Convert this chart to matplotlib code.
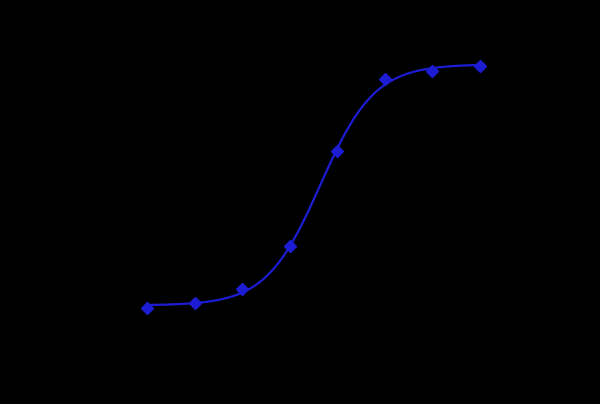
import numpy as np
import matplotlib
matplotlib.use('Agg')
import matplotlib.pyplot as plt

# Standard curve data (2-fold dilution series)
conc = [15.6, 31.25, 62.5, 125, 250, 500, 1000, 2000]
od = [0.23, 0.28, 0.42, 0.87, 1.85, 2.60, 2.68, 2.73]


def four_pl(x, a, b, c, d):
    return d + (a - d) / (1 + (x / c) ** b)


def fit_four_pl(x, y):
    # simple damped Gauss-Newton for the 4PL model
    p = np.array([min(y), 2.0, 200.0, max(y)])
    lam = 1e-2
    for _ in range(500):
        r = y - four_pl(x, *p)
        J = np.zeros((len(x), 4))
        for i in range(4):
            dp = np.zeros(4)
            dp[i] = 1e-6 * max(abs(p[i]), 1.0)
            J[:, i] = (four_pl(x, *(p + dp)) - four_pl(x, *p)) / dp[i]
        A = J.T @ J
        step = np.linalg.solve(A + lam * np.diag(np.diag(A)), J.T @ r)
        new_p = p + step
        if new_p[2] > 0 and np.sum((y - four_pl(x, *new_p)) ** 2) < np.sum(r ** 2):
            p = new_p
            lam *= 0.5
        else:
            lam *= 4
    return p


x = np.array(conc)
y = np.array(od)
params = fit_four_pl(x, y)
xs = np.logspace(np.log10(x.min()), np.log10(x.max()), 300)

fig = plt.figure(figsize=(6, 4.04), dpi=100, facecolor='black')
ax = fig.add_axes([0.2, 0.183, 0.65, 0.718])
ax.set_facecolor('black')

ax.plot(xs, four_pl(xs, *params), color='#1c1cd2', lw=1.6)
ax.plot(x, y, linestyle='none', marker='D', markersize=6, color='#1c1cd2')

ax.set_xscale('log')
doubling = 47.57 / 390
ax.set_xlim(15.6 / 2 ** (27 / 47.57), 2000 * 2 ** (30 / 47.57))
ax.set_ylim(0, 3.0)

for s in ax.spines.values():
    s.set_color('black')
ax.tick_params(colors='black', which='both')

fig.savefig('out.png', dpi=100, facecolor='black')
